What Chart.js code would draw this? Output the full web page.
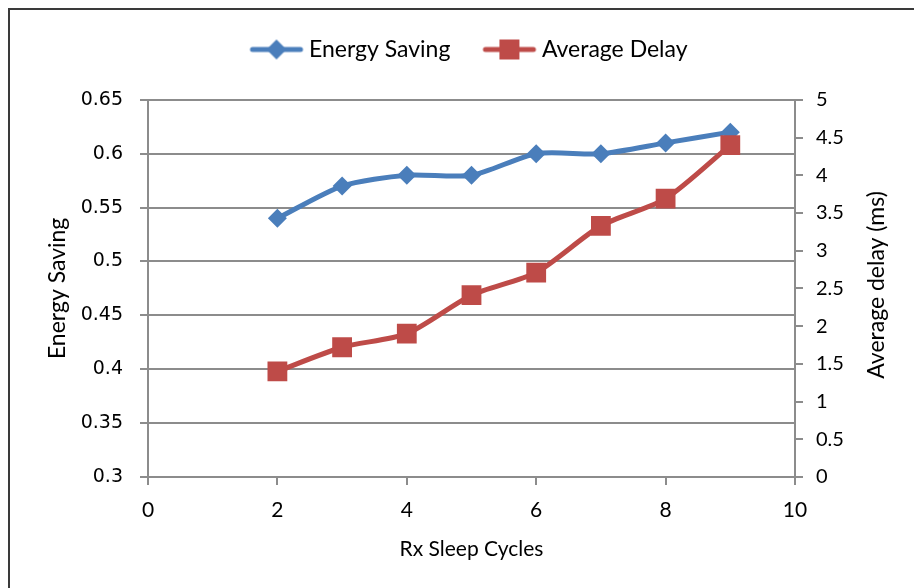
<!DOCTYPE html>
<html>
<head>
<meta charset="utf-8">
<script src="https://cdn.jsdelivr.net/npm/chart.js@4/dist/chart.umd.min.js"></script>
<style>
  html, body { margin: 0; padding: 0; background: #fff; }
  #wrap { width: 914px; height: 588px; }
</style>
</head>
<body>
<div id="wrap"><canvas id="chart" width="914" height="588"></canvas></div>
<script>
const sleepCycles = [2, 3, 4, 5, 6, 7, 8, 9];
const energySaving = [0.54, 0.57, 0.58, 0.58, 0.60, 0.60, 0.61, 0.62];
const averageDelay = [1.40, 1.72, 1.90, 2.41, 2.71, 3.33, 3.69, 4.40];

const xTicks = [0, 2, 4, 6, 8, 10];

const blue = '#4a7ebb';
const red = '#be4b48';
const axisGray = '#8c8c8c';
const calibriLike = 'Lato, "Open Sans", sans-serif';

function points(xs, ys) {
    return xs.map((x, i) => ({ x: x, y: ys[i] }));
}

// drop trailing zeros: 0.60 -> 0.6, 5.0 -> 5
function plainNumber(v) {
    return String(+Number(v).toFixed(2));
}

// little line-plus-marker swatch for the legend
function legendSwatch(color, marker) {
    const c = document.createElement('canvas');
    c.width = 56;
    c.height = 22;
    const g = c.getContext('2d');
    g.strokeStyle = color;
    g.lineWidth = 5;
    g.lineCap = 'round';
    g.beginPath();
    g.moveTo(4, 11);
    g.lineTo(52, 11);
    g.stroke();
    g.fillStyle = color;
    if (marker === 'diamond') {
        g.beginPath();
        g.moveTo(28, 1);
        g.lineTo(38, 11);
        g.lineTo(28, 21);
        g.lineTo(18, 11);
        g.closePath();
        g.fill();
    } else {
        g.fillRect(18, 1, 20, 20);
    }
    return c;
}

const frame = {
    id: 'frame',
    beforeDraw(chart) {
        const ctx = chart.ctx;
        ctx.save();
        ctx.strokeStyle = '#3a3a3a';
        ctx.lineWidth = 2;
        ctx.strokeRect(9, 9, 1000, 1000);
        ctx.restore();
    }
};

// right axis title reads bottom-to-top
const rightTitle = {
    id: 'rightTitle',
    afterDraw(chart) {
        const ctx = chart.ctx;
        ctx.save();
        ctx.translate(877, 285);
        ctx.rotate(-Math.PI / 2);
        ctx.font = '23px ' + calibriLike;
        ctx.fillStyle = '#000';
        ctx.textAlign = 'center';
        ctx.textBaseline = 'middle';
        ctx.fillText('Average delay (ms)', 0, 0);
        ctx.restore();
    }
};

const data = {
    datasets: [{
        label: 'Energy Saving',
        data: points(sleepCycles, energySaving),
        yAxisID: 'y',
        borderColor: blue,
        backgroundColor: blue,
        borderWidth: 5,
        tension: 0.25,
        pointStyle: 'rectRot',
        pointRadius: 9.5,
        pointBorderWidth: 0,
        order: 1
    }, {
        label: 'Average Delay',
        data: points(sleepCycles, averageDelay),
        yAxisID: 'y2',
        borderColor: red,
        backgroundColor: red,
        borderWidth: 5,
        tension: 0.25,
        pointStyle: 'rect',
        pointRadius: 14,
        pointBorderWidth: 0,
        order: 0
    }]
};

const config = {
    type: 'line',
    data: data,
    plugins: [frame, rightTitle],
    options: {
        responsive: false,
        animation: false,
        layout: { padding: 0 },
        plugins: {
            legend: {
                position: 'top',
                fullSize: false,
                labels: {
                    usePointStyle: true,
                    pointStyleWidth: 42,
                    padding: 38,
                    color: '#000',
                    font: { family: calibriLike, size: 23 },
                    generateLabels(chart) {
                        return chart.data.datasets.map((ds, i) => ({
                            text: ds.label,
                            datasetIndex: i,
                            pointStyle: legendSwatch(ds.borderColor, i === 0 ? 'diamond' : 'square'),
                            fillStyle: ds.borderColor,
                            strokeStyle: ds.borderColor,
                            lineWidth: 0,
                            fontColor: '#000'
                        }));
                    }
                }
            },
            // empty title used as a gap between legend and plot
            title: {
                display: true,
                text: '',
                position: 'top',
                weight: 500,
                padding: 0,
                font: { size: 24 }
            },
            tooltip: { enabled: false }
        },
        scales: {
            x: {
                type: 'linear',
                min: 0,
                max: 10,
                afterBuildTicks(scale) {
                    scale.ticks = xTicks.map(v => ({ value: v }));
                },
                afterFit(scale) { scale.height = 111; },
                grid: {
                    drawOnChartArea: false,
                    drawTicks: true,
                    tickLength: 8,
                    color: axisGray,
                    lineWidth: 2
                },
                border: { display: true, color: axisGray, width: 2 },
                ticks: {
                    padding: 13,
                    color: '#000',
                    maxRotation: 0,
                    font: { family: calibriLike, size: 21 }
                },
                title: {
                    display: true,
                    text: 'Rx Sleep Cycles',
                    color: '#000',
                    font: { family: calibriLike, size: 21 },
                    padding: { top: 0, bottom: 26 }
                }
            },
            y: {
                position: 'left',
                min: 0.3,
                max: 0.65,
                afterFit(scale) { scale.width = 148; },
                grid: {
                    drawTicks: true,
                    tickLength: 8,
                    color: axisGray,
                    lineWidth: 2
                },
                border: { display: true, color: axisGray, width: 2 },
                ticks: {
                    stepSize: 0.05,
                    padding: 17,
                    color: '#000',
                    font: { family: 'DejaVu Sans', size: 19 },
                    callback: plainNumber
                },
                title: {
                    display: true,
                    text: 'Energy Saving',
                    color: '#000',
                    font: { family: calibriLike, size: 23 },
                    padding: { top: 44, bottom: 0 }
                }
            },
            y2: {
                position: 'right',
                min: 0,
                max: 5,
                afterFit(scale) { scale.width = 119; },
                grid: {
                    drawOnChartArea: false,
                    drawTicks: true,
                    tickLength: 8,
                    color: axisGray,
                    lineWidth: 2
                },
                border: { display: true, color: axisGray, width: 2 },
                ticks: {
                    stepSize: 0.5,
                    padding: 13,
                    color: '#000',
                    font: { family: calibriLike, size: 20 },
                    callback: plainNumber
                }
            }
        }
    }
};

new Chart(document.getElementById('chart').getContext('2d'), config);
</script>
</body>
</html>
